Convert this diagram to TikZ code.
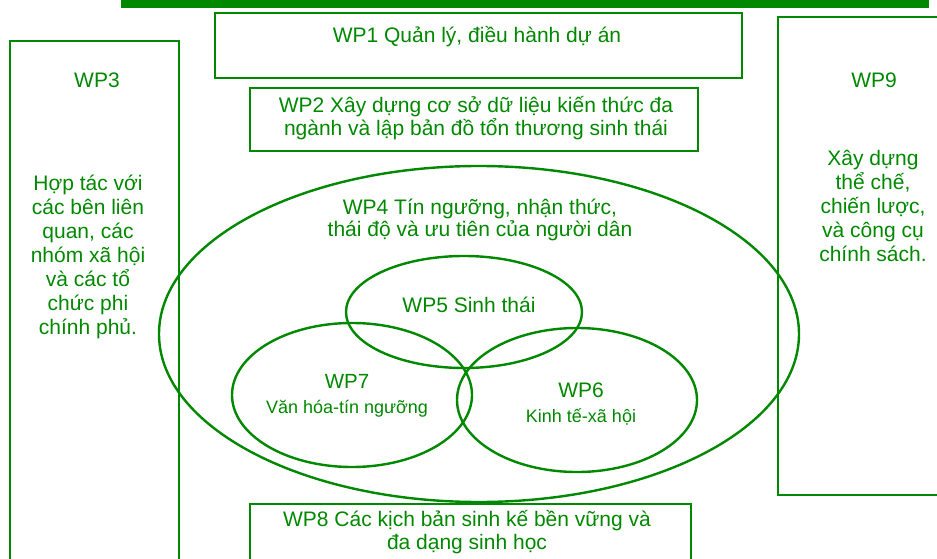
\documentclass[tikz,border=0pt]{standalone}
\usepackage{fontspec}
\setmainfont{Liberation Sans}
\usetikzlibrary{shapes.geometric}
\definecolor{wpgreen}{RGB}{0,136,0}
\tikzset{
  wpbox/.style={draw=wpgreen, line width=2pt, rectangle, inner sep=0pt, anchor=north west},
  wpell/.style={draw=wpgreen, line width=2.4pt, ellipse, inner sep=0pt},
  bigtxt/.style={text=wpgreen, align=center, inner sep=0pt, font=\fontsize{21}{24}\selectfont},
  midtxt/.style={text=wpgreen, align=center, inner sep=0pt, font=\fontsize{21}{22.5}\selectfont},
  subtxt/.style={text=wpgreen, align=center, inner sep=0pt, font=\fontsize{18}{25.5}\selectfont},
}
\begin{document}
\begin{tikzpicture}[x=1pt,y=-1pt]
\useasboundingbox (0,0) rectangle (937,559);
\clip (0,0) rectangle (937,559);
% top bar
\node[fill=wpgreen, inner sep=0pt, minimum width=808pt, minimum height=8pt, anchor=north west] (bar) at (121,0) {};
% boxes
\node[wpbox, minimum width=527pt, minimum height=65pt] (wp1box) at (214,12) {};
\node[wpbox, minimum width=448pt, minimum height=63pt] (wp2box) at (249,87) {};
\node[wpbox, minimum width=169pt, minimum height=540pt] (wp3box) at (9,40) {};
\node[wpbox, minimum width=190pt, minimum height=478pt] (wp9box) at (777,16) {};
\node[wpbox, minimum width=441pt, minimum height=80pt] (wp8box) at (249,503) {};
% ellipses
\node[wpell, minimum width=640pt, minimum height=336pt] (wp4ell) at (479,334) {};
\node[wpell, minimum width=236pt, minimum height=112pt] (wp5ell) at (464,312) {};
\node[wpell, minimum width=240pt, minimum height=144pt] (wp7ell) at (352,395) {};
\node[wpell, minimum width=240pt, minimum height=144pt] (wp6ell) at (577,400) {};
% texts
\node[bigtxt] (wp1) at (477,37) {WP1 Quản lý, điều hành dự án};
\node[midtxt, font=\fontsize{21}{23}\selectfont] (wp2) at (476,118) {WP2 Xây dựng cơ sở dữ liệu kiến thức đa\\ngành và lập bản đồ tổn thương sinh thái};
\node[bigtxt] (wp3t) at (97,80) {WP3};
\node[bigtxt] (wp3) at (88,257) {Hợp tác với\\các bên liên\\quan, các\\nhóm xã hội\\và các tổ\\chức phi\\chính phủ.};
\node[bigtxt] (wp9t) at (874,80) {WP9};
\node[bigtxt] (wp9) at (873,206) {Xây dựng\\thể chế,\\chiến lược,\\và công cụ\\chính sách.};
\node[midtxt] (wp4) at (480,220) {WP4 Tín ngưỡng, nhận thức,\\thái độ và ưu tiên của người dân};
\node[bigtxt] (wp5) at (469,305) {WP5 Sinh thái};
\node[subtxt] (wp7) at (347,396) {{\fontsize{20.5}{22}\selectfont WP7}\\Văn hóa-tín ngưỡng};
\node[subtxt] (wp6) at (581,404) {{\fontsize{21}{22}\selectfont WP6}\\Kinh tế-xã hội};
\node[midtxt, font=\fontsize{21}{23}\selectfont] (wp8) at (467,532) {WP8 Các kịch bản sinh kế bền vững và\\đa dạng sinh học};
\end{tikzpicture}
\end{document}
